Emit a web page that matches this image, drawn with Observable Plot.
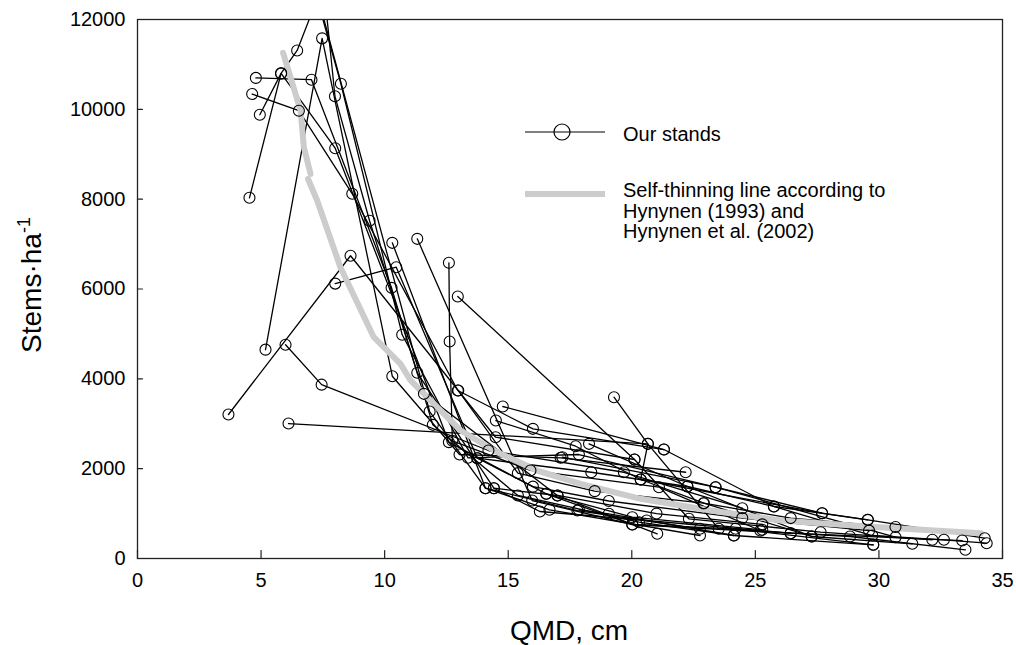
<!DOCTYPE html>
<html><head><meta charset="utf-8">
<script src="https://cdn.jsdelivr.net/npm/d3@7"></script>
<script src="https://cdn.jsdelivr.net/npm/@observablehq/plot@0.6"></script>
<style>body{margin:0;background:#fff} svg{display:block}</style>
</head><body><div id="chart"></div>
<script>
// Tick labels
const xTicks = [0, 5, 10, 15, 20, 25, 30, 35];
const yTicks = [0, 2000, 4000, 6000, 8000, 10000, 12000];

// Stand trajectories (QMD cm, stems per ha)
const stands = [
  {qmd: [4.64, 6.53, 8.69, 12.96, 16.0, 21.3], stems: [10340, 9970, 8120, 3740, 2887, 2426]},
  {qmd: [4.95, 5.81, 6.46, 7.3, 11.82, 14.08, 17.8, 22.76], stems: [9880, 10800, 11310, 12500, 3272, 1565, 1068, 661]},
  {qmd: [4.53, 5.81, 8.0, 12.6, 16.54, 20.02, 25.28], stems: [8030, 10800, 9134, 2590, 1440, 920, 639]},
  {qmd: [4.79, 7.04, 10.28, 11.95, 15.39, 20.29, 24.13], stems: [10700, 10660, 6026, 2976, 1403, 808, 512]},
  {qmd: [5.18, 7.47, 10.31, 13.03, 17.12, 22.18], stems: [4650, 11580, 4058, 2315, 2242, 1920]},
  {qmd: [7.35, 8.23, 10.71, 13.37, 17.86, 23.39, 27.7], stems: [12300, 10570, 4980, 2242, 2315, 1587, 1009]},
  {qmd: [7.6, 7.99, 9.39, 11.32, 14.42, 16.28, 20.6, 26.43], stems: [12400, 10290, 7520, 4134, 1565, 1046, 846, 563]},
  {qmd: [3.68, 8.62, 14.49, 20.11], stems: [3206, 6740, 2700, 2204]},
  {qmd: [8.0, 10.47, 13.75, 18.36, 22.25, 25.75, 29.55], stems: [6120, 6485, 2233, 1920, 1603, 1158, 861]},
  {qmd: [5.99, 7.45, 14.2, 19.68, 24.47], stems: [4760, 3870, 2404, 1920, 1120]},
  {qmd: [6.11, 20.65, 20.36, 22.92, 27.28], stems: [3005, 2553, 1759, 1231, 490]},
  {qmd: [10.31, 14.08, 16.67, 22.76], stems: [7028, 1565, 1084, 512]},
  {qmd: [11.32, 15.97, 20.02, 24.2, 29.77], stems: [7117, 1291, 757, 661, 305]},
  {qmd: [12.6, 12.63, 12.74, 15.9, 21.1, 25.2], stems: [6583, 4831, 2620, 1960, 1587, 623]},
  {qmd: [12.96, 20.11, 22.31, 27.64, 32.16], stems: [5833, 2204, 884, 586, 416]},
  {qmd: [19.28, 20.65, 23.52, 28.83, 33.5], stems: [3591, 2553, 661, 490, 194]},
  {qmd: [14.78, 21.3, 25.75, 29.73, 32.63, 34.36], stems: [3384, 2426, 1158, 512, 416, 341]},
  {qmd: [14.5, 17.73, 20.36, 27.7, 29.55, 34.28], stems: [3072, 2500, 1759, 1009, 861, 452]},
  {qmd: [11.59, 16.99, 21.03], stems: [3666, 1403, 550]},
  {qmd: [17.19, 23.39, 30.67], stems: [2255, 1587, 475]},
  {qmd: [18.27, 22.25, 27.28, 31.35], stems: [2553, 1603, 490, 327]},
  {qmd: [17.86, 19.07, 24.13, 29.77], stems: [1084, 995, 512, 305]},
  {qmd: [16.54, 20.02, 26.43, 33.37], stems: [1440, 757, 563, 400]},
  {qmd: [12.98, 15.39, 18.5, 22.9, 26.43, 30.67], stems: [3740, 1900, 1500, 1231, 900, 700]},
  {qmd: [14.42, 17.0, 21.0, 25.28], stems: [1565, 1403, 1000, 760]},
  {qmd: [13.75, 16.0, 19.07, 24.47, 29.6], stems: [2233, 1600, 1280, 900, 620]}
];

// Self-thinning line (Hynynen), drawn in two pieces as in the picture
const refSeg1QMD = [5.89, 6.6, 6.73, 7.0];
const refSeg1Stems = [11258, 9973, 9160, 8563];
const refSeg2QMD = [6.9, 7.27, 8.21, 9.56, 10.64, 11.05, 11.59, 13.07, 14.56, 16.17, 17.93, 20.36, 23.19, 26.02, 29.53, 34.12];
const refSeg2Stems = [8450, 7970, 6485, 4927, 4334, 3963, 3666, 2850, 2366, 1959, 1663, 1329, 1069, 846, 712, 563];

const standRows = stands.flatMap((s, i) => s.qmd.map((q, j) => ({stand: i, qmd: q, stems: s.stems[j]})));
const refRows = [
  ...refSeg1QMD.map((q, j) => ({seg: 1, qmd: q, stems: refSeg1Stems[j]})),
  ...refSeg2QMD.map((q, j) => ({seg: 2, qmd: q, stems: refSeg2Stems[j]}))
];

const tickShape = {draw(ctx, l) { ctx.moveTo(0, 0); ctx.lineTo(0, -l); }};
const FONT = "'Liberation Sans', Arial, Helvetica, sans-serif";

const chart = Plot.plot({
  width: 1016,
  height: 645,
  marginLeft: 137,
  marginRight: 14,
  marginTop: 19,
  marginBottom: 87,
  style: {fontFamily: FONT, fontSize: "20px", color: "#000", background: "#fff"},
  x: {domain: [0, 35]},
  y: {domain: [0, 12000]},
  marks: [
    Plot.line(standRows, {x: "qmd", y: "stems", z: "stand", stroke: "#000", strokeWidth: 1.3, clip: true}),
    Plot.line(refRows, {x: "qmd", y: "stems", z: "seg", stroke: "#cccccc", strokeWidth: 6, clip: true}),
    Plot.dot(standRows, {x: "qmd", y: "stems", r: 5.5, stroke: "#000", fill: "none", strokeWidth: 1.1, clip: true}),
    Plot.frame({stroke: "#222", strokeWidth: 1.3}),
    Plot.vector(xTicks, {x: d => d, y: () => 0, length: 8, rotate: 0, anchor: "start", shape: tickShape, stroke: "#222", strokeWidth: 1.2}),
    Plot.vector(yTicks, {x: () => 0, y: d => d, length: 5, rotate: 90, anchor: "start", shape: tickShape, stroke: "#222", strokeWidth: 1.2}),
    Plot.axisX(xTicks, {tickSize: 0, tickPadding: 14, label: null, fontSize: 20, tickFormat: d => String(d)}),
    Plot.axisY(yTicks, {tickSize: 0, tickPadding: 12, label: null, fontSize: 20, tickFormat: d => String(d)})
  ]
});

const svg = d3.select(chart);
// Axis titles
svg.append("text").attr("x", 569).attr("y", 640).attr("text-anchor", "middle")
  .attr("font-size", 28).attr("font-family", FONT).attr("fill", "#000").text("QMD, cm");
const yt = svg.append("text").attr("transform", "translate(41,285) rotate(-90)").attr("text-anchor", "middle")
  .attr("font-size", 28).attr("font-family", FONT).attr("fill", "#000");
yt.append("tspan").text("Stems\u00B7ha");
yt.append("tspan").attr("font-size", 18).attr("dy", -11).text("-1");

// Legend
const lg = svg.append("g").attr("font-family", FONT).attr("font-size", 20).attr("fill", "#000").attr("text-anchor", "start");
lg.append("line").attr("x1", 525).attr("x2", 605).attr("y1", 132).attr("y2", 132).attr("stroke", "#000").attr("stroke-width", 1.2);
lg.append("circle").attr("cx", 562).attr("cy", 132).attr("r", 8).attr("fill", "none").attr("stroke", "#000").attr("stroke-width", 1.2);
lg.append("text").attr("x", 623).attr("y", 141).attr("text-anchor", "start").text("Our stands");
lg.append("line").attr("x1", 525).attr("x2", 605).attr("y1", 194).attr("y2", 194).attr("stroke", "#cccccc").attr("stroke-width", 6);
["Self-thinning line according to", "Hynynen (1993) and", "Hynynen et al. (2002)"].forEach((t, i) => {
  lg.append("text").attr("x", 623).attr("y", 197 + i * 20.5).attr("text-anchor", "start").text(t);
});

document.getElementById("chart").appendChild(chart);
</script>
</body></html>
